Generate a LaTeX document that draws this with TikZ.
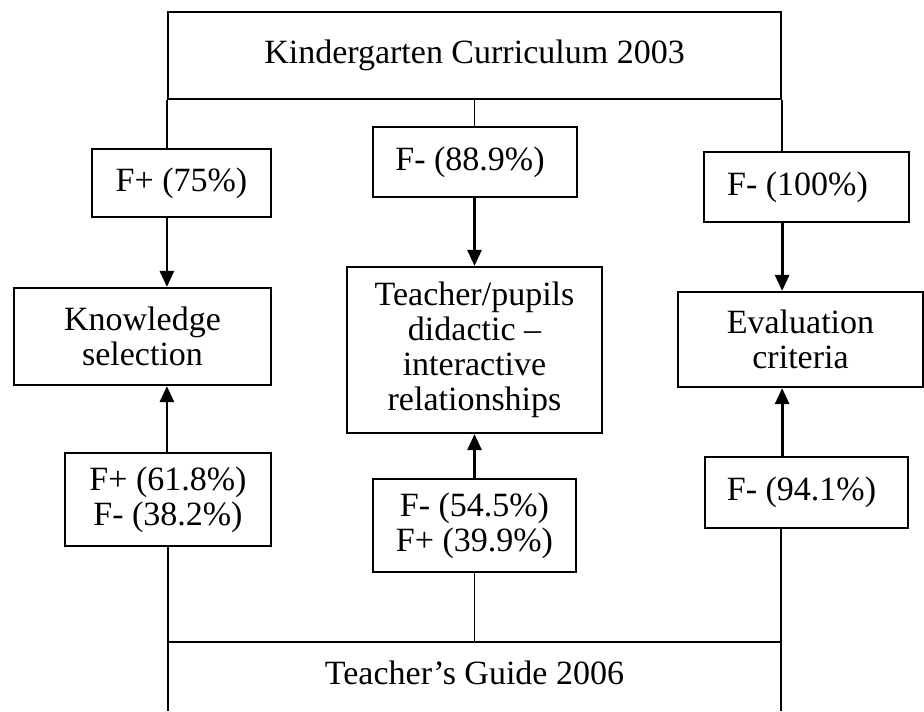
\documentclass[tikz,border=0pt]{standalone}
\usepackage{fontspec}
\setmainfont{Liberation Serif}
\usetikzlibrary{arrows.meta}

\begin{document}
\begin{tikzpicture}[x=0.5pt, y=-0.5pt,
	box/.style={draw, line width=1.1pt, align=center, inner sep=0pt, font=\fontsize{17}{17.5}\selectfont},
	link/.style={line width=0.7pt},
	arr/.style={line width=1.4pt, -{Triangle[length=8pt,width=7pt]}}]
	\useasboundingbox (0,0) rectangle (924,711);

	\node[box, minimum width=306.5pt, minimum height=43.5pt] (kc) at (474.5,55.5) {Kindergarten Curriculum 2003};

	\node[box, minimum width=89.5pt, minimum height=34pt] (fa) at (181.5,183) {F+ (75\%)};
	\node[box, minimum width=102pt, minimum height=35pt] (fb) at (475,162) {F- (88.9\%)\hspace{5pt}};
	\node[box, minimum width=102.5pt, minimum height=35pt] (fc) at (806.5,187) {F- (100\%)\hspace{9pt}};

	\node[box, minimum width=128.5pt, minimum height=48.5pt] (ks) at (142.5,336.5) {Knowledge\\selection};
	\node[box, minimum width=127.5pt, minimum height=83pt] (tp) at (474.5,350) {Teacher/pupils\\didactic --\\interactive\\relationships};
	\node[box, minimum width=122.5pt, minimum height=47.5pt] (ev) at (800.5,339.5) {Evaluation\\criteria};

	\node[box, minimum width=103pt, minimum height=46.5pt] (fd) at (168,499.5) {F+ (61.8\%)\\F- (38.2\%)\hspace{5pt}};
	\node[box, minimum width=101.5pt, minimum height=46.5pt] (fe) at (474.5,525.5) {F- (54.5\%)\hspace{5pt}\\F+ (39.9\%)};
	\node[box, minimum width=101.5pt, minimum height=35.5pt] (ff) at (806.5,492.5) {F- (94.1\%)\hspace{5pt}};

	\node[font=\fontsize{17}{17.5}\selectfont] (tg) at (474.5,673) {Teacher's Guide 2006};
	\coordinate (gl) at (168,642);
	\coordinate (gr) at (781,642);
	\coordinate (gll) at (168,711);
	\coordinate (grr) at (781,711);

	\draw[link] (kc.south west) -- (fa.north -| kc.south west);
	\draw[arr] (fa.south -| kc.south west) -- (ks.north -| kc.south west);
	\draw[arr] (fd.north -| kc.south west) -- (ks.south -| kc.south west);
	\draw[link] (fd.south -| gl) -- (gll);

	\draw[link] (kc.south) -- (fb.north -| kc.south);
	\draw[arr] (fb.south -| kc.south) -- (tp.north -| kc.south);
	\draw[arr] (fe.north -| kc.south) -- (tp.south -| kc.south);
	\draw[link] (fe.south -| kc.south) -- (gl -| kc.south);

	\draw[link] (kc.south east) -- (fc.north -| kc.south east);
	\draw[arr] (fc.south -| kc.south east) -- (ev.north -| kc.south east);
	\draw[arr] (ff.north -| kc.south east) -- (ev.south -| kc.south east);
	\draw[link] (ff.south -| gr) -- (grr);

	\draw[line width=1.1pt] (gl) -- (gr);
\end{tikzpicture}
\end{document}
